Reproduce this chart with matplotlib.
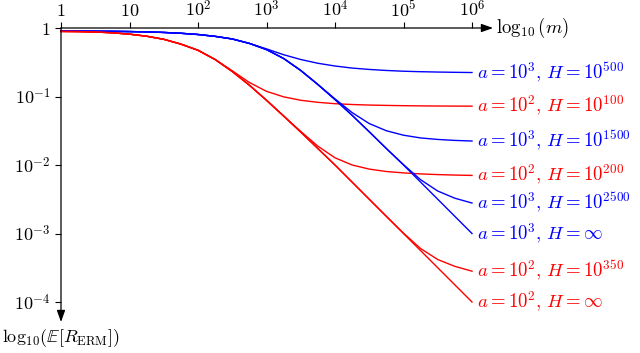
import matplotlib
matplotlib.use("Agg")
from matplotlib import pyplot as plt

plt.rcParams["mathtext.fontset"] = "cm"
plt.rcParams["font.family"] = "serif"
plt.rcParams["font.serif"] = ["DejaVu Serif"]

# log10(m) sample positions
log_m = [0, 0.25, 0.5, 0.75, 1, 1.25, 1.5, 1.75, 2, 2.25, 2.5, 2.75, 3,
         3.25, 3.5, 3.75, 4, 4.25, 4.5, 4.75, 5, 5.25, 5.5, 5.75, 6]

# log10(E[R_ERM])
red_inf = [-0.05, -0.052, -0.058, -0.07, -0.09, -0.12, -0.165, -0.235, -0.325, -0.46, -0.635, -0.835, -1.055,
           -1.285, -1.52, -1.76, -2.0, -2.25, -2.5, -2.75, -3.0, -3.25, -3.5, -3.75, -4.0]
red_350 = [-0.05, -0.052, -0.058, -0.07, -0.09, -0.12, -0.165, -0.235, -0.325, -0.46, -0.635, -0.835, -1.055,
           -1.285, -1.52, -1.76, -2.0, -2.25, -2.5, -2.75, -2.995, -3.22, -3.38, -3.48, -3.55]
red_200 = [-0.05, -0.052, -0.058, -0.07, -0.09, -0.12, -0.165, -0.235, -0.325, -0.46, -0.635, -0.835, -1.055,
           -1.285, -1.51, -1.725, -1.895, -2.0, -2.06, -2.095, -2.115, -2.13, -2.14, -2.147, -2.152]
red_100 = [-0.05, -0.052, -0.058, -0.07, -0.09, -0.12, -0.165, -0.235, -0.325, -0.46, -0.625, -0.795, -0.925,
           -1.005, -1.055, -1.085, -1.105, -1.117, -1.125, -1.13, -1.134, -1.137, -1.139, -1.14, -1.141]
blue_inf = [-0.045, -0.046, -0.047, -0.049, -0.052, -0.057, -0.065, -0.077, -0.095, -0.122, -0.16, -0.225, -0.315,
            -0.445, -0.62, -0.825, -1.045, -1.275, -1.515, -1.76, -2.0, -2.25, -2.5, -2.75, -3.0]
blue_2500 = [-0.045, -0.046, -0.047, -0.049, -0.052, -0.057, -0.065, -0.077, -0.095, -0.122, -0.16, -0.225, -0.315,
             -0.445, -0.62, -0.825, -1.045, -1.275, -1.515, -1.76, -1.995, -2.215, -2.38, -2.485, -2.555]
blue_1500 = [-0.045, -0.046, -0.047, -0.049, -0.052, -0.057, -0.065, -0.077, -0.095, -0.122, -0.16, -0.225, -0.315,
             -0.445, -0.62, -0.825, -1.035, -1.235, -1.395, -1.5, -1.565, -1.605, -1.627, -1.641, -1.65]
blue_500 = [-0.045, -0.046, -0.047, -0.049, -0.052, -0.057, -0.065, -0.077, -0.095, -0.122, -0.16, -0.225, -0.305,
            -0.39, -0.46, -0.515, -0.555, -0.585, -0.605, -0.62, -0.631, -0.638, -0.643, -0.647, -0.65]

series = [
    (blue_500, "blue", r"$a = 10^3,\, H = 10^{500}$"),
    (red_100, "red", r"$a = 10^2,\, H = 10^{100}$"),
    (blue_1500, "blue", r"$a = 10^3,\, H = 10^{1500}$"),
    (red_200, "red", r"$a = 10^2,\, H = 10^{200}$"),
    (blue_2500, "blue", r"$a = 10^3,\, H = 10^{2500}$"),
    (blue_inf, "blue", r"$a = 10^3,\, H = \infty$"),
    (red_350, "red", r"$a = 10^2,\, H = 10^{350}$"),
    (red_inf, "red", r"$a = 10^2,\, H = \infty$"),
]

x_ticks = [0, 1, 2, 3, 4, 5, 6]
x_labels = [r"$1$", r"$10$", r"$10^2$", r"$10^3$", r"$10^4$", r"$10^5$", r"$10^6$"]
y_ticks = [0, -1, -2, -3, -4]
y_labels = [r"$1$", r"$10^{-1}$", r"$10^{-2}$", r"$10^{-3}$", r"$10^{-4}$"]

fig = plt.figure(figsize=(6.4, 3.53), dpi=100)
ax = fig.add_axes([61 / 640, 1 - 322 / 353, 432 / 640, 294 / 353])
x_max = 432 / 68.5
y_min = -294 / 68.5
ax.set_xlim(0, x_max)
ax.set_ylim(y_min, 0)

for vals, col, lab in series:
    ax.plot(log_m, vals, color=col, lw=1.0, clip_on=False)
    ax.text(6.07, vals[-1], lab, color=col, fontsize=13.5, va="center", ha="left")

for s in ax.spines.values():
    s.set_visible(False)

ax.xaxis.tick_top()
ax.set_xticks(x_ticks)
ax.set_xticklabels(x_labels, fontsize=13)
ax.set_yticks(y_ticks)
ax.set_yticklabels(y_labels, fontsize=13)
ax.tick_params(axis="both", direction="out", length=4.5, width=0.8, colors="black")
ax.tick_params(axis="x", pad=1)
ax.tick_params(axis="y", pad=3)

arrow = dict(arrowstyle="-|>,head_length=0.7,head_width=0.25", color="black", lw=0.9,
             shrinkA=0, shrinkB=0)
ax.annotate("", xy=(x_max, 0), xytext=(0, 0), arrowprops=arrow, annotation_clip=False)
ax.annotate("", xy=(0, y_min), xytext=(0, 0), arrowprops=arrow, annotation_clip=False)

ax.text(x_max + 0.05, 0, r"$\log_{10}(m)$", fontsize=13.5, va="center", ha="left")
ax.text(0, y_min - 0.07, r"$\log_{10}\!\left(\mathbb{E}[R_{\mathrm{ERM}}]\right)$",
        fontsize=13, va="top", ha="center")

fig.savefig("out.png", dpi=100)
